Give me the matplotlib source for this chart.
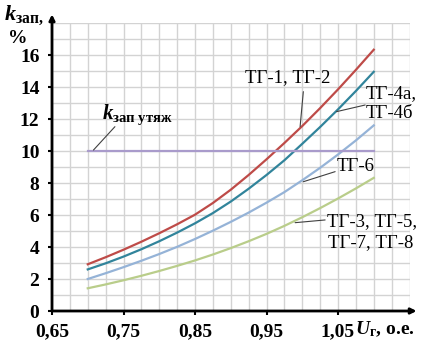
import matplotlib
matplotlib.use('Agg')
import matplotlib.pyplot as plt
from matplotlib.ticker import MultipleLocator

plt.rcParams['font.family'] = ['Liberation Serif', 'DejaVu Serif']
plt.rcParams['mathtext.fontset'] = 'custom'
plt.rcParams['mathtext.rm'] = 'Liberation Serif:bold'
plt.rcParams['mathtext.it'] = 'Liberation Serif:italic:bold'
plt.rcParams['mathtext.bf'] = 'Liberation Serif:bold'

# напряжение генератора, о.е.
u = [0.7, 0.725, 0.75, 0.775, 0.8, 0.825, 0.85, 0.875, 0.9,
     0.925, 0.95, 0.975, 1.0, 1.025, 1.05, 1.075, 1.1]
tg_1_2 = [2.92, 3.36, 3.83, 4.33, 4.86, 5.42, 6.02, 6.75, 7.58,
          8.5, 9.48, 10.5, 11.56, 12.68, 13.85, 15.07, 16.33]
tg_4 = [2.6, 2.98, 3.4, 3.86, 4.36, 4.9, 5.48, 6.12, 6.84,
        7.64, 8.5, 9.42, 10.45, 11.5, 12.6, 13.75, 14.95]
tg_6 = [2.0, 2.36, 2.74, 3.14, 3.56, 4.01, 4.5, 5.02, 5.57,
        6.15, 6.77, 7.43, 8.17, 8.95, 9.78, 10.66, 11.6]
tg_3_5_7_8 = [1.42, 1.66, 1.92, 2.2, 2.5, 2.82, 3.16, 3.53, 3.93,
              4.36, 4.82, 5.32, 5.86, 6.43, 7.03, 7.66, 8.32]
k_utyazh = 10

xticks = [0.65, 0.75, 0.85, 0.95, 1.05]
xtick_labels = ['0,65', '0,75', '0,85', '0,95', '1,05']
yticks = [0, 2, 4, 6, 8, 10, 12, 14, 16]

fig = plt.figure(figsize=(4.21, 3.42), dpi=100)
ax = fig.add_axes([52 / 421, 31 / 342, 357.5 / 421, 288 / 342])

ax.plot(u, tg_1_2, color='#BE4B48', lw=1.6)
ax.plot(u, tg_4, color='#31849B', lw=1.6)
ax.plot(u, tg_6, color='#95B3D7', lw=1.6)
ax.plot(u, tg_3_5_7_8, color='#B9CD8A', lw=1.6)
ax.plot([u[0], u[-1]], [k_utyazh, k_utyazh], color='#A99BCB', lw=1.6)

ax.set_xlim(0.65, 1.15)
ax.set_ylim(0, 18)
ax.set_xticks(xticks)
ax.set_xticklabels(xtick_labels)
ax.set_yticks(yticks)
ax.xaxis.set_minor_locator(MultipleLocator(0.025))
ax.yaxis.set_minor_locator(MultipleLocator(1))
ax.grid(which='both', color='#d3d3d3', lw=1)
ax.set_axisbelow(True)
ax.tick_params(which='major', direction='out', length=3, width=1.5,
               labelsize=14, pad=6)
ax.tick_params(which='minor', length=0)
for lab in ax.get_xticklabels() + ax.get_yticklabels():
    lab.set_fontweight('bold')

for s in ['top', 'right', 'left', 'bottom']:
    ax.spines[s].set_visible(False)
ax.annotate('', xy=(0, 1.03), xytext=(0, 0), xycoords='axes fraction',
            arrowprops=dict(arrowstyle='-|>', color='k', lw=2,
                            mutation_scale=8, shrinkA=0, shrinkB=0))
ax.annotate('', xy=(1.02, 0), xytext=(0, 0), xycoords='axes fraction',
            arrowprops=dict(arrowstyle='-|>', color='k', lw=2,
                            mutation_scale=8, shrinkA=0, shrinkB=0))

# подписи кривых
lp = dict(arrowstyle='-', color='#404040', lw=0.8, shrinkA=0, shrinkB=0)
ax.text(0.92, 14.56, 'ТГ-1, ТГ-2', fontsize=13.5, va='center')
ax.annotate('', xy=(0.997, 11.52), xytext=(1.0015, 13.71), arrowprops=lp)
ax.text(1.088, 13.56, 'ТГ-4а,', fontsize=13.5, va='center')
ax.text(1.088, 12.375, 'ТГ-4б', fontsize=13.5, va='center')
ax.annotate('', xy=(1.048, 12.46), xytext=(1.088, 12.875), arrowprops=lp)
ax.text(1.048, 9.06, 'ТГ-6', fontsize=13.5, va='center')
ax.annotate('', xy=(1.0015, 8.08), xytext=(1.046, 8.71), arrowprops=lp)
ax.text(1.034, 5.58, 'ТГ-3, ТГ-5,', fontsize=13.5, va='center')
ax.text(1.036, 4.28, 'ТГ-7, ТГ-8', fontsize=13.5, va='center')
ax.annotate('', xy=(0.99, 5.52), xytext=(1.032, 5.69), arrowprops=lp)
ax.text(0.7195, 12.0, r'$k_{\mathrm{зап\ утяж}}$', fontsize=15,
        va='baseline')
ax.annotate('', xy=(0.708, 10.06), xytext=(0.738, 11.52), arrowprops=lp)

# подписи осей
fig.text(4 / 421, 1 - 20 / 342, r'$k_{\mathrm{зап,}}$', fontsize=16,
         va='baseline')
fig.text(8 / 421, 1 - 43 / 342, '%', fontsize=14, fontweight='bold',
         va='baseline')
fig.text(355 / 421, 1 - 334 / 342, r'$U_{\mathrm{г}}$, о.е.', fontsize=14,
         fontweight='bold', va='baseline')

fig.savefig('out.png', dpi=100)
